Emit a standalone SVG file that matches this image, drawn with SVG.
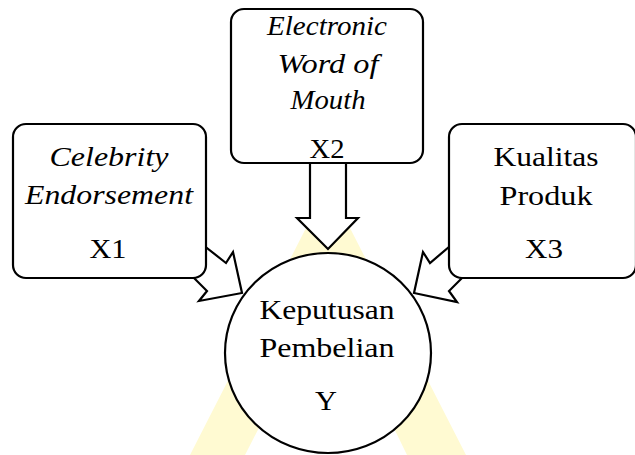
<svg xmlns="http://www.w3.org/2000/svg" width="635" height="455" viewBox="0 0 635 455">
<style>
.box{fill:#fff;stroke:#000;stroke-width:2.2}
.arr{fill:#fff;stroke:#000;stroke-width:2.2;stroke-linejoin:miter}
text{font-family:'Liberation Serif',serif;font-size:26.5px;fill:#000;text-anchor:middle}
.i{font-style:italic}
</style>
<rect width="635" height="455" fill="#fff"/>
<path d="M328,185 L466,455 L190,455 Z M328,293 L245,455 L407,455 Z" fill="#fffad2" fill-rule="evenodd"/>
<g id="connectors">
<polygon class="arr" points="310,150 346,150 346,218 358,218 328,249 297,218 310,218"/>
<polygon class="arr" points="198,241 226,263 233,252 242,293 199,301 207,291 188,272"/>
<polygon class="arr" points="456,241 430,263 423,252 414,293 457,302 449,291 468,272"/>
</g>
<g id="x1">
<rect class="box" x="13" y="124" width="193" height="154" rx="13"/>
<text class="i" x="109" y="166" textLength="119" lengthAdjust="spacingAndGlyphs">Celebrity</text>
<text class="i" x="109" y="204" textLength="168" lengthAdjust="spacingAndGlyphs">Endorsement</text>
<text x="108" y="258" textLength="37" lengthAdjust="spacingAndGlyphs">X1</text>
</g>
<g id="x2">
<rect class="box" x="231" y="9" width="192" height="154" rx="13"/>
<text class="i" x="327" y="35" textLength="120" lengthAdjust="spacingAndGlyphs">Electronic</text>
<text class="i" x="328" y="73" textLength="101" lengthAdjust="spacingAndGlyphs">Word of</text>
<text class="i" x="328" y="109" textLength="75" lengthAdjust="spacingAndGlyphs">Mouth</text>
<text x="327" y="158" textLength="35" lengthAdjust="spacingAndGlyphs">X2</text>
</g>
<g id="x3">
<rect class="box" x="449" y="124" width="187" height="154" rx="13"/>
<text x="546" y="166" textLength="105" lengthAdjust="spacingAndGlyphs">Kualitas</text>
<text x="546" y="205" textLength="93" lengthAdjust="spacingAndGlyphs">Produk</text>
<text x="544" y="258" textLength="38" lengthAdjust="spacingAndGlyphs">X3</text>
</g>
<g id="y">
<ellipse class="box" cx="328" cy="353" rx="103" ry="100"/>
<text x="327" y="319" textLength="135" lengthAdjust="spacingAndGlyphs">Keputusan</text>
<text x="327" y="357" textLength="135" lengthAdjust="spacingAndGlyphs">Pembelian</text>
<text x="326" y="410" textLength="22" lengthAdjust="spacingAndGlyphs">Y</text>
</g>
</svg>
